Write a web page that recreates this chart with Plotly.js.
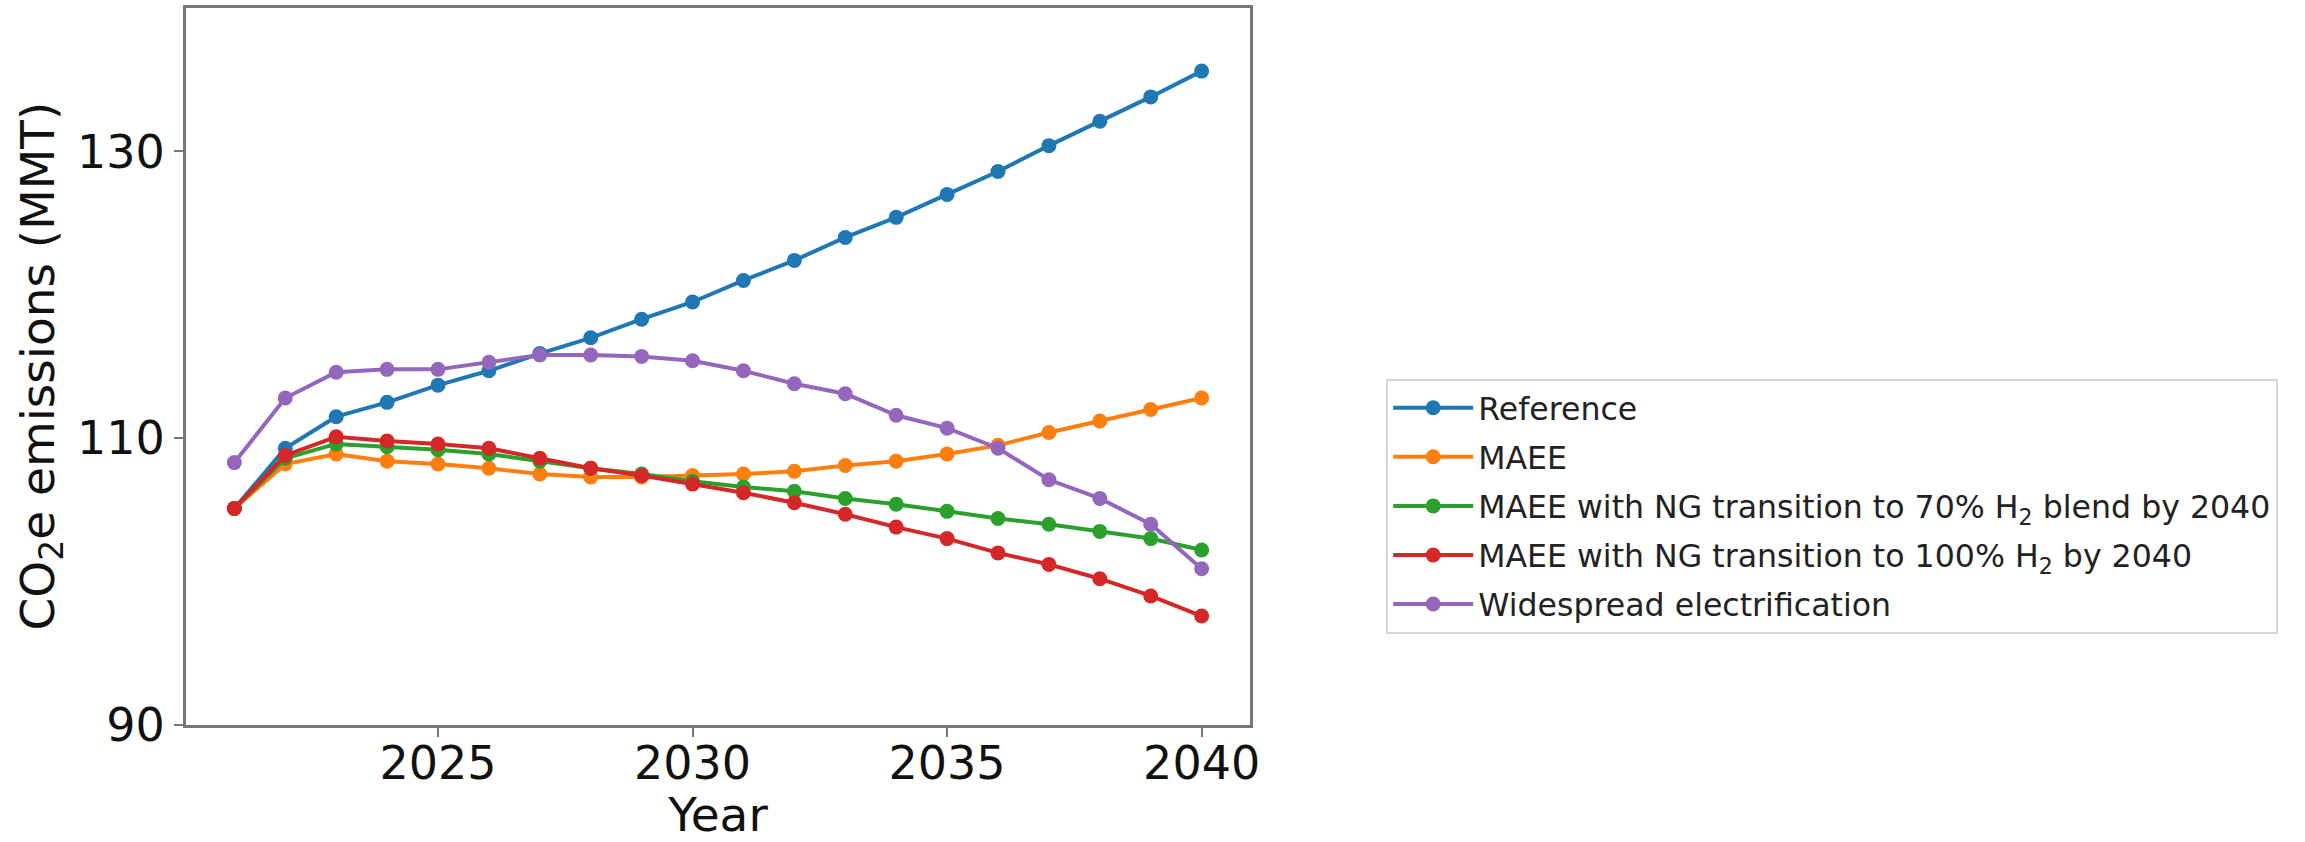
<!DOCTYPE html>
<html>
<head>
<meta charset="utf-8">
<script src="https://cdn.plot.ly/plotly-3.0.1.min.js"></script>
<style>html,body{margin:0;padding:0;background:#fff;}#chart{width:2305px;height:842px;}</style>
</head>
<body>
<div id="chart"></div>
<script>
const years = [2021,2022,2023,2024,2025,2026,2027,2028,2029,2030,2031,2032,2033,2034,2035,2036,2037,2038,2039,2040];
const reference = [105.1,109.3,111.5,112.5,113.7,114.7,115.9,117.0,118.3,119.5,121.0,122.4,124.0,125.4,127.0,128.6,130.4,132.1,133.8,135.6];
const maee = [105.1,108.2,108.9,108.4,108.2,107.9,107.5,107.3,107.3,107.4,107.5,107.7,108.1,108.4,108.9,109.5,110.4,111.2,112.0,112.8];
const maeeH2Blend70 = [105.1,108.6,109.6,109.4,109.2,108.9,108.4,107.9,107.5,107.0,106.6,106.3,105.8,105.4,104.9,104.4,104.0,103.5,103.0,102.2];
const maeeH2Full100 = [105.1,108.8,110.1,109.8,109.6,109.3,108.6,107.9,107.4,106.8,106.2,105.5,104.7,103.8,103.0,102.0,101.2,100.2,99.0,97.6];
const electrification = [108.3,112.8,114.6,114.8,114.8,115.3,115.8,115.8,115.7,115.4,114.7,113.8,113.1,111.6,110.7,109.3,107.1,105.8,104.0,100.9];

const seriesNames = [
  'Reference',
  'MAEE',
  'MAEE with NG transition to 70% H<sub>2</sub> blend by 2040',
  'MAEE with NG transition to 100% H<sub>2</sub> by 2040',
  'Widespread electrification'
];
const seriesValues = [reference, maee, maeeH2Blend70, maeeH2Full100, electrification];
const colors = ['#1f77b4','#ff7f0e','#2ca02c','#d62728','#9467bd'];
const xTicks = [2025,2030,2035,2040];
const yTicks = [90,110,130];
const yTitle = 'CO<sub>2</sub>e emissions (MMT)';
const xTitle = 'Year';

const traces = seriesValues.map((vals, i) => ({
  x: years, y: vals, name: seriesNames[i], type: 'scatter', mode: 'lines+markers',
  legendgroup: 'g' + i,
  line: {color: colors[i], width: 4},
  marker: {color: colors[i], size: 15}
}));

const font = 'DejaVu Sans, Liberation Sans, sans-serif';
const layout = {
  width: 2305, height: 842,
  margin: {l: 186, r: 1055, t: 8, b: 117},
  paper_bgcolor: '#fff', plot_bgcolor: '#fff',
  font: {family: font, color: '#111'},
  showlegend: true,
  legend: {
    x: 1.128, xanchor: 'left', y: 0.483, yanchor: 'top',
    font: {family: font, size: 31.6, color: '#222'},
    bordercolor: '#d6d6d6', borderwidth: 2, bgcolor: '#fff',
    traceorder: 'grouped', tracegroupgap: 5, itemwidth: 80
  },
  xaxis: {
    range: [2020.05, 2040.95], tickvals: xTicks, ticktext: xTicks.map(String),
    showgrid: false, zeroline: false,
    showline: true, mirror: true, linecolor: '#777', linewidth: 3,
    ticks: 'outside', ticklen: 9, tickwidth: 2, tickcolor: '#777',
    ticklabelstandoff: -13,
    tickfont: {family: font, size: 46, color: '#111'},
    title: {text: xTitle, font: {family: font, size: 47, color: '#111'}, standoff: 14}
  },
  yaxis: {
    range: [90, 140], tickvals: yTicks, ticktext: yTicks.map(String),
    showgrid: false, zeroline: false,
    showline: true, mirror: true, linecolor: '#777', linewidth: 3,
    ticks: 'outside', ticklen: 9, tickwidth: 2, tickcolor: '#777',
    tickfont: {family: font, size: 46, color: '#111'}
  },
  annotations: [{
    text: yTitle, xref: 'paper', yref: 'paper',
    x: (40 - 186) / 1064, y: 0.5,
    xanchor: 'center', yanchor: 'middle', textangle: -90, showarrow: false,
    font: {family: font, size: 47, color: '#111'}
  }]
};

Plotly.newPlot('chart', traces, layout, {displayModeBar: false, staticPlot: true});
</script>
</body>
</html>
